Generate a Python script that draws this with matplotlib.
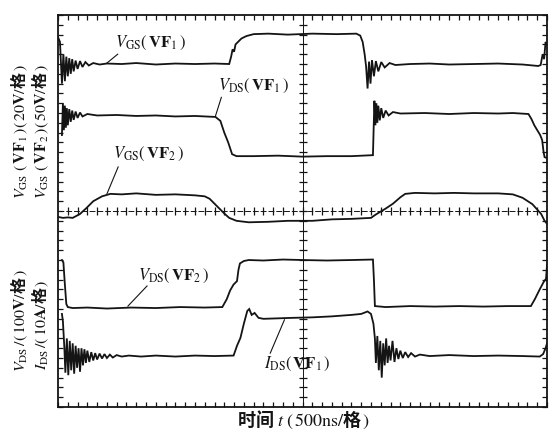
import numpy as np
import matplotlib
matplotlib.use("Agg")
import matplotlib.pyplot as plt

plt.rcParams['mathtext.fontset'] = 'stix'

# traces, (time [div], level [div])
vgs1 = [(0.0, 7.55), (0.04, 7.45), (0.08, 6.6), (0.11, 7.2), (0.14, 6.65), (0.17, 7.15),
        (0.20, 6.75), (0.23, 7.12), (0.26, 6.8), (0.29, 7.1), (0.32, 6.85), (0.36, 7.07),
        (0.40, 6.9), (0.45, 7.06), (0.50, 6.94), (0.56, 7.04), (0.63, 6.97), (0.72, 7.02),
        (0.85, 6.99), (1.0, 7.01), (1.3, 7.0), (1.6, 7.02), (2.0, 6.99), (2.4, 7.01),
        (2.8, 7.0), (3.2, 7.01), (3.5, 7.0), (3.54, 7.15), (3.57, 7.3), (3.60, 7.25),
        (3.63, 7.4), (3.68, 7.45), (3.75, 7.52), (3.85, 7.57), (4.0, 7.61), (4.3, 7.62),
        (4.7, 7.6), (5.2, 7.62), (5.7, 7.61), (6.1, 7.62), (6.18, 7.58), (6.23, 7.45),
        (6.27, 7.2), (6.30, 6.95), (6.33, 6.5), (6.36, 7.05), (6.39, 6.6), (6.42, 7.08),
        (6.46, 6.75), (6.50, 7.06), (6.55, 6.85), (6.61, 7.04), (6.68, 6.93), (6.78, 7.02),
        (6.9, 6.98), (7.2, 7.0), (7.6, 7.01), (8.0, 6.99), (8.5, 7.0), (9.0, 7.01),
        (9.5, 6.99), (9.82, 6.96), (9.87, 6.98), (9.91, 7.2), (9.94, 7.1), (9.97, 7.45),
        (10.0, 7.4)]

vds1 = [(0.08, 5.55), (0.10, 6.2), (0.12, 5.65), (0.14, 6.15), (0.16, 5.7), (0.18, 6.1),
        (0.20, 5.75), (0.23, 6.08), (0.26, 5.82), (0.29, 6.05), (0.32, 5.86), (0.36, 6.03),
        (0.40, 5.9), (0.45, 6.01), (0.50, 5.93), (0.6, 5.98), (0.8, 5.95), (1.2, 5.96),
        (1.6, 5.94), (2.0, 5.95), (2.4, 5.93), (2.8, 5.94), (3.22, 5.92), (3.32, 5.84),
        (3.40, 5.6), (3.48, 5.4), (3.56, 5.16), (3.65, 5.12), (4.0, 5.12), (4.5, 5.13),
        (5.0, 5.11), (5.5, 5.12), (6.0, 5.12), (6.44, 5.14), (6.46, 5.9), (6.47, 6.25),
        (6.49, 5.75), (6.51, 6.2), (6.53, 5.8), (6.55, 6.15), (6.58, 5.85), (6.61, 6.1),
        (6.65, 5.9), (6.70, 6.05), (6.76, 5.95), (6.85, 6.02), (7.0, 5.99), (7.5, 6.0),
        (8.0, 5.98), (8.5, 6.0), (9.0, 5.99), (9.3, 6.0), (9.62, 5.98), (9.68, 5.88),
        (9.74, 5.75), (9.80, 5.65), (9.86, 5.55), (9.90, 5.45), (9.93, 5.2), (9.95, 5.1),
        (10.0, 5.08)]

vgs2 = [(0.0, 3.88), (0.1, 3.86), (0.2, 3.87), (0.3, 3.86), (0.45, 3.94), (0.58, 4.06),
        (0.72, 4.2), (0.9, 4.3), (1.07, 4.35), (1.3, 4.34), (1.6, 4.36), (2.0, 4.33),
        (2.4, 4.34), (2.8, 4.32), (3.0, 4.3), (3.1, 4.25), (3.2, 4.15), (3.3, 4.05),
        (3.4, 3.95), (3.5, 3.86), (3.65, 3.8), (3.9, 3.77), (4.3, 3.78), (4.7, 3.8),
        (5.2, 3.8), (5.6, 3.83), (6.0, 3.84), (6.4, 3.86), (6.5, 3.93), (6.7, 4.05),
        (6.85, 4.15), (7.0, 4.28), (7.1, 4.35), (7.3, 4.37), (7.7, 4.36), (8.1, 4.37),
        (8.5, 4.36), (9.0, 4.36), (9.3, 4.34), (9.5, 4.27), (9.7, 4.14), (9.88, 3.94),
        (9.95, 3.8), (10.0, 3.74)]

vds2 = [(0.08, 3.0), (0.11, 2.95), (0.14, 2.5), (0.17, 2.1), (0.2, 2.04), (0.3, 2.02),
        (0.6, 2.03), (1.0, 2.01), (1.5, 2.03), (2.0, 2.02), (2.5, 2.04), (3.0, 2.03),
        (3.36, 2.04), (3.45, 2.2), (3.52, 2.38), (3.59, 2.5), (3.66, 2.57), (3.69, 2.8),
        (3.72, 2.93), (3.8, 2.98), (3.9, 3.0), (4.2, 2.99), (4.6, 3.01), (5.0, 3.0),
        (5.5, 2.99), (6.0, 3.0), (6.44, 3.01), (6.46, 2.6), (6.48, 2.06), (6.7, 2.04),
        (7.2, 2.06), (7.7, 2.05), (8.2, 2.06), (8.7, 2.05), (9.2, 2.06), (9.67, 2.06),
        (9.75, 2.2), (9.85, 2.4), (9.93, 2.55), (9.98, 2.62), (10.0, 2.9)]

ids1 = [(0.08, 1.9), (0.10, 1.75), (0.13, 1.2), (0.15, 0.7), (0.18, 1.4), (0.21, 0.65),
        (0.24, 1.35), (0.27, 0.75), (0.30, 1.3), (0.33, 0.68), (0.36, 1.25), (0.39, 0.8),
        (0.42, 1.2), (0.45, 0.72), (0.48, 1.2), (0.51, 0.85), (0.54, 1.18), (0.57, 0.9),
        (0.60, 1.15), (0.64, 0.92), (0.68, 1.12), (0.72, 0.95), (0.76, 1.1), (0.80, 0.97),
        (0.85, 1.09), (0.90, 0.99), (0.95, 1.08), (1.0, 1.0), (1.06, 1.07), (1.12, 1.01),
        (1.2, 1.06), (1.3, 1.03), (1.45, 1.05), (1.7, 1.03), (2.0, 1.05), (2.4, 1.03),
        (2.8, 1.05), (3.2, 1.04), (3.59, 1.05), (3.66, 1.25), (3.73, 1.41), (3.80, 1.7),
        (3.87, 1.96), (3.91, 2.0), (3.96, 1.88), (4.02, 1.92), (4.1, 1.82), (4.2, 1.8),
        (4.5, 1.81), (4.8, 1.82), (5.2, 1.83), (5.6, 1.85), (6.0, 1.88), (6.2, 1.9),
        (6.33, 1.95), (6.40, 1.9), (6.45, 1.7), (6.48, 1.4), (6.50, 0.9), (6.53, 1.45),
        (6.56, 0.75), (6.59, 1.35), (6.62, 0.6), (6.65, 1.3), (6.68, 0.85), (6.71, 1.4),
        (6.74, 0.9), (6.77, 1.25), (6.80, 0.95), (6.84, 1.35), (6.88, 0.92), (6.92, 1.2),
        (6.96, 0.98), (7.0, 1.15), (7.05, 1.0), (7.1, 1.12), (7.16, 1.02), (7.22, 1.1),
        (7.3, 1.03), (7.4, 1.07), (7.6, 1.04), (8.0, 1.06), (8.5, 1.04), (9.0, 1.05),
        (9.5, 1.04), (9.85, 1.03), (9.92, 1.08), (9.97, 1.2), (10.0, 1.3)]

traces = [vgs1, vds1, vgs2, vds2, ids1]

# labels: text, text position, leader start, leader end
labels = [
    (r"$V_{\mathrm{GS}}(\,\mathbf{VF}_1\,)$", (1.17, 7.43), (1.22, 7.2), (1.0, 7.02)),
    (r"$V_{\mathrm{DS}}(\,\mathbf{VF}_1\,)$", (3.28, 6.55), (3.34, 6.32), (3.22, 5.94)),
    (r"$V_{\mathrm{GS}}(\,\mathbf{VF}_2\,)$", (1.13, 5.16), (1.23, 4.9), (1.0, 4.35)),
    (r"$V_{\mathrm{DS}}(\,\mathbf{VF}_2\,)$", (1.64, 2.67), (1.82, 2.47), (1.43, 2.06)),
    (r"$I_{\mathrm{DS}}(\,\mathbf{VF}_1\,)$", (4.22, 0.88), (4.34, 1.1), (4.63, 1.78)),
]

ink = '#141414'
fig = plt.figure(figsize=(5.51, 4.33), dpi=100)
ax = fig.add_axes([0.1053, 0.060, 0.8875, 0.9053])
ax.set_xlim(0, 10)
ax.set_ylim(0, 8)

for tr in traces:
    t, v = np.array(tr).T
    ax.plot(t, v, color=ink, lw=1.3, solid_joinstyle='miter')

# graticule: centre cross with small ticks
ax.plot([5, 5], [0, 8], color=ink, lw=0.7)
ax.plot([0, 10], [4, 4], color=ink, lw=0.7, dashes=(6, 2))
yt = np.arange(0.2, 8, 0.2)
xt = np.arange(0.2, 10, 0.2)
ax.plot(np.full(len(yt), 5.0), yt, ls='none', marker='_', ms=6, mew=0.9, color=ink)
ax.plot(xt, np.full(len(xt), 4.0), ls='none', marker='|', ms=6, mew=0.9, color=ink)

ax.set_xticks(np.arange(0, 10.01, 0.2))
ax.set_yticks(np.arange(0, 8.01, 0.2))
ax.tick_params(direction='in', length=3.5, width=0.9, color=ink,
               top=True, right=True, labelbottom=False, labelleft=False)
for s in ax.spines.values():
    s.set_linewidth(1.3)
    s.set_color(ink)

for txt, pos, a, b in labels:
    ax.text(pos[0], pos[1], txt, fontsize=12, color=ink, va='center', ha='left')
    ax.plot([a[0], b[0]], [a[1], b[1]], color=ink, lw=0.8)

cjk = dict(family='Noto Sans CJK SC', weight='bold', color=ink)
fig.text(19 / 551, 1 - 132 / 433,
         r"$V_{\mathrm{GS}}\ (\,\mathbf{VF}_1\,)(\,20\mathbf{V}/$格$\,)$",
         rotation=90, ha='center', va='center', fontsize=11.5, **cjk)
fig.text(40 / 551, 1 - 132 / 433,
         r"$V_{\mathrm{GS}}\ (\,\mathbf{VF}_2\,)(\,50\mathbf{V}/$格$\,)$",
         rotation=90, ha='center', va='center', fontsize=11.5, **cjk)
fig.text(19 / 551, 1 - 321 / 433,
         r"$V_{\mathrm{DS}}\,/(\,100\mathbf{V}/$格$\,)$",
         rotation=90, ha='center', va='center', fontsize=11.5, **cjk)
fig.text(40 / 551, 1 - 325 / 433,
         r"$I_{\mathrm{DS}}\,/(\,10\mathbf{A}/$格$\,)$",
         rotation=90, ha='center', va='center', fontsize=11.5, **cjk)
fig.text(304 / 551, 1 - 420 / 433, r"时间 $t\ (\,500\mathrm{ns}/$格$\,)$",
         ha='center', va='center', fontsize=13, **cjk)

fig.savefig("out.png", dpi=100, facecolor='white')
